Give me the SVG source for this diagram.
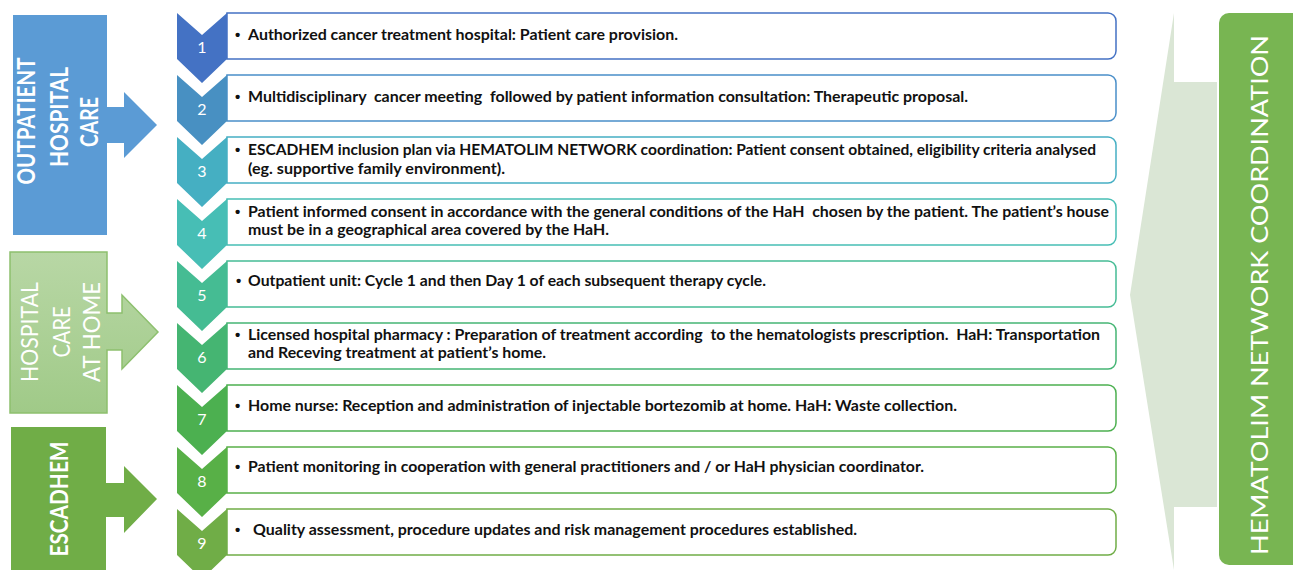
<svg xmlns="http://www.w3.org/2000/svg" width="1293" height="570" viewBox="0 0 1293 570">
<defs>
<linearGradient id="gHome" x1="0" y1="0" x2="0" y2="1">
<stop offset="0" stop-color="#B8D7A5"/>
<stop offset="1" stop-color="#A0CA88"/>
</linearGradient>
</defs>
<style>
.side{font-family:"Lato","Liberation Sans",sans-serif;fill:#fff;font-size:24px;text-anchor:middle}
.b{font-weight:700}
.num{font-family:"Lato","Liberation Sans",sans-serif;fill:#fff;font-size:16px;text-anchor:middle}
.t{font-family:"Lato","Liberation Sans",sans-serif;font-weight:700;font-size:15.5px;fill:#111}
.bul{font-family:"Liberation Sans",sans-serif;font-weight:700;font-size:15px;fill:#111}
.box{fill:#fff;stroke-width:1.5}
</style>
<rect width="1293" height="570" fill="#fff"/>

<g id="coordination-arrow">
<path d="M1174,13 L1174,82 L1217,82 L1217,507 L1174,507 L1174,570 L1130,295 Z" fill="#DAE6D5"/>
</g>
<g id="coordination">
<path d="M1229,13 H1293 V565 H1229 A10,10 0 0 1 1219,555 V23 A10,10 0 0 1 1229,13 Z" fill="#78B552"/>
<text class="side" transform="translate(1255,295) rotate(-90)" x="0" y="13" font-size="31" font-weight="400" textLength="520" lengthAdjust="spacingAndGlyphs">HEMATOLIM NETWORK COORDINATION</text>
</g>

<g id="outpatient">
<path d="M13,15 H107 V107 H124 V92 L157,125 L124,158 V143 H107 V235 H13 Z" fill="#5B9BD5"/>
<g transform="translate(60,121) rotate(-90)">
<text class="side b" x="0" y="-25" textLength="127" lengthAdjust="spacingAndGlyphs">OUTPATIENT</text>
<text class="side b" x="4" y="8" textLength="100" lengthAdjust="spacingAndGlyphs">HOSPITAL</text>
<text class="side b" x="-1" y="38" textLength="50" lengthAdjust="spacingAndGlyphs">CARE</text>
</g>
</g>

<g id="home">
<path d="M10,252 H107 V313 H122 V295 L158,332 L122,369 V350 H107 V413 H10 Z" fill="url(#gHome)" stroke="#8DC06E" stroke-width="1.5"/>
<g transform="translate(60,332) rotate(-90)">
<text class="side" x="0" y="-22" textLength="100" lengthAdjust="spacingAndGlyphs">HOSPITAL</text>
<text class="side" x="0" y="10" textLength="51" lengthAdjust="spacingAndGlyphs">CARE</text>
<text class="side" x="0" y="40" textLength="100" lengthAdjust="spacingAndGlyphs">AT HOME</text>
</g>
</g>

<g id="escadhem">
<path d="M11,427 H106 V483 H124 V466 L157,499 L124,533 V517 H106 V570 H11 Z" fill="#70AD47"/>
<text class="side b" transform="translate(60,499) rotate(-90)" x="0" y="8" textLength="115" lengthAdjust="spacingAndGlyphs">ESCADHEM</text>
</g>

<g id="step1">
<path class="box" stroke="#4472C4" d="M227,13 H1108 A8,8 0 0 1 1116,21 V51 A8,8 0 0 1 1108,59 H227 Z"/>
<path d="M177,13 L202,35 L227,13 V59 L202,83 L177,59 Z" fill="#4472C4"/>
<text class="num" x="202" y="53">1</text>
<text class="bul" x="235" y="40">•</text>
<text class="t" x="248" y="40" textLength="430" lengthAdjust="spacingAndGlyphs">Authorized cancer treatment hospital: Patient care provision.</text>
</g>

<g id="step2">
<path class="box" stroke="#4A8FC9" d="M227,75 H1108 A8,8 0 0 1 1116,83 V113 A8,8 0 0 1 1108,121 H227 Z"/>
<path d="M177,75 L202,97 L227,75 V121 L202,145 L177,121 Z" fill="#4890C2"/>
<text class="num" x="202" y="115">2</text>
<text class="bul" x="235" y="102">•</text>
<text class="t" x="248" y="102" textLength="720" lengthAdjust="spacingAndGlyphs" xml:space="preserve">Multidisciplinary  cancer meeting  followed by patient information consultation: Therapeutic proposal.</text>
</g>

<g id="step3">
<path class="box" stroke="#45AFC4" d="M227,137 H1108 A8,8 0 0 1 1116,145 V175 A8,8 0 0 1 1108,183 H227 Z"/>
<path d="M177,137 L202,159 L227,137 V183 L202,207 L177,183 Z" fill="#45AFC2"/>
<text class="num" x="202" y="177">3</text>
<text class="bul" x="235" y="155">•</text>
<text class="t" x="248" y="155" textLength="848" lengthAdjust="spacingAndGlyphs">ESCADHEM inclusion plan via HEMATOLIM NETWORK coordination: Patient consent obtained, eligibility criteria analysed</text>
<text class="t" x="248" y="174" textLength="257" lengthAdjust="spacingAndGlyphs">(eg. supportive family environment).</text>
</g>

<g id="step4">
<path class="box" stroke="#47BEB5" d="M227,199 H1108 A8,8 0 0 1 1116,207 V237 A8,8 0 0 1 1108,245 H227 Z"/>
<path d="M177,199 L202,221 L227,199 V245 L202,269 L177,245 Z" fill="#47BEB5"/>
<text class="num" x="202" y="239">4</text>
<text class="bul" x="235" y="217">•</text>
<text class="t" x="248" y="217" textLength="861" lengthAdjust="spacingAndGlyphs" xml:space="preserve">Patient informed consent in accordance with the general conditions of the HaH  chosen by the patient. The patient’s house</text>
<text class="t" x="248" y="235" textLength="361" lengthAdjust="spacingAndGlyphs">must be in a geographical area covered by the HaH.</text>
</g>

<g id="step5">
<path class="box" stroke="#46BC95" d="M227,261 H1108 A8,8 0 0 1 1116,269 V299 A8,8 0 0 1 1108,307 H227 Z"/>
<path d="M177,261 L202,283 L227,261 V307 L202,331 L177,307 Z" fill="#45BC93"/>
<text class="num" x="202" y="301">5</text>
<text class="bul" x="236" y="286">•</text>
<text class="t" x="248" y="286" textLength="518" lengthAdjust="spacingAndGlyphs">Outpatient unit: Cycle 1 and then Day 1 of each subsequent therapy cycle.</text>
</g>

<g id="step6">
<path class="box" stroke="#45B574" d="M227,323 H1108 A8,8 0 0 1 1116,331 V361 A8,8 0 0 1 1108,369 H227 Z"/>
<path d="M177,323 L202,345 L227,323 V369 L202,393 L177,369 Z" fill="#45B572"/>
<text class="num" x="202" y="363">6</text>
<text class="bul" x="235" y="340">•</text>
<text class="t" x="248" y="340" textLength="852" lengthAdjust="spacingAndGlyphs" xml:space="preserve">Licensed hospital pharmacy : Preparation of treatment according  to the hematologists prescription.  HaH: Transportation</text>
<text class="t" x="248" y="358" textLength="298" lengthAdjust="spacingAndGlyphs">and Receving treatment at patient’s home.</text>
</g>

<g id="step7">
<path class="box" stroke="#4CB050" d="M227,385 H1108 A8,8 0 0 1 1116,393 V423 A8,8 0 0 1 1108,431 H227 Z"/>
<path d="M177,385 L202,407 L227,385 V431 L202,455 L177,431 Z" fill="#4CB050"/>
<text class="num" x="202" y="425">7</text>
<text class="bul" x="235" y="411">•</text>
<text class="t" x="248" y="411" textLength="709" lengthAdjust="spacingAndGlyphs">Home nurse: Reception and administration of injectable bortezomib at home. HaH: Waste collection.</text>
</g>

<g id="step8">
<path class="box" stroke="#5AB048" d="M227,447 H1108 A8,8 0 0 1 1116,455 V485 A8,8 0 0 1 1108,493 H227 Z"/>
<path d="M177,447 L202,469 L227,447 V493 L202,517 L177,493 Z" fill="#58B047"/>
<text class="num" x="202" y="487">8</text>
<text class="bul" x="235" y="472">•</text>
<text class="t" x="248" y="472" textLength="676" lengthAdjust="spacingAndGlyphs">Patient monitoring in cooperation with general practitioners and / or HaH physician coordinator.</text>
</g>

<g id="step9">
<path class="box" stroke="#70AD47" d="M227,509 H1108 A8,8 0 0 1 1116,517 V547 A8,8 0 0 1 1108,555 H227 Z"/>
<path d="M177,509 L202,531 L227,509 V555 L202,579 L177,555 Z" fill="#70AD47"/>
<text class="num" x="202" y="549">9</text>
<text class="bul" x="235" y="535">•</text>
<text class="t" x="253" y="535" textLength="604" lengthAdjust="spacingAndGlyphs">Quality assessment, procedure updates and risk management procedures established.</text>
</g>

<g id="connectors"></g>
</svg>
